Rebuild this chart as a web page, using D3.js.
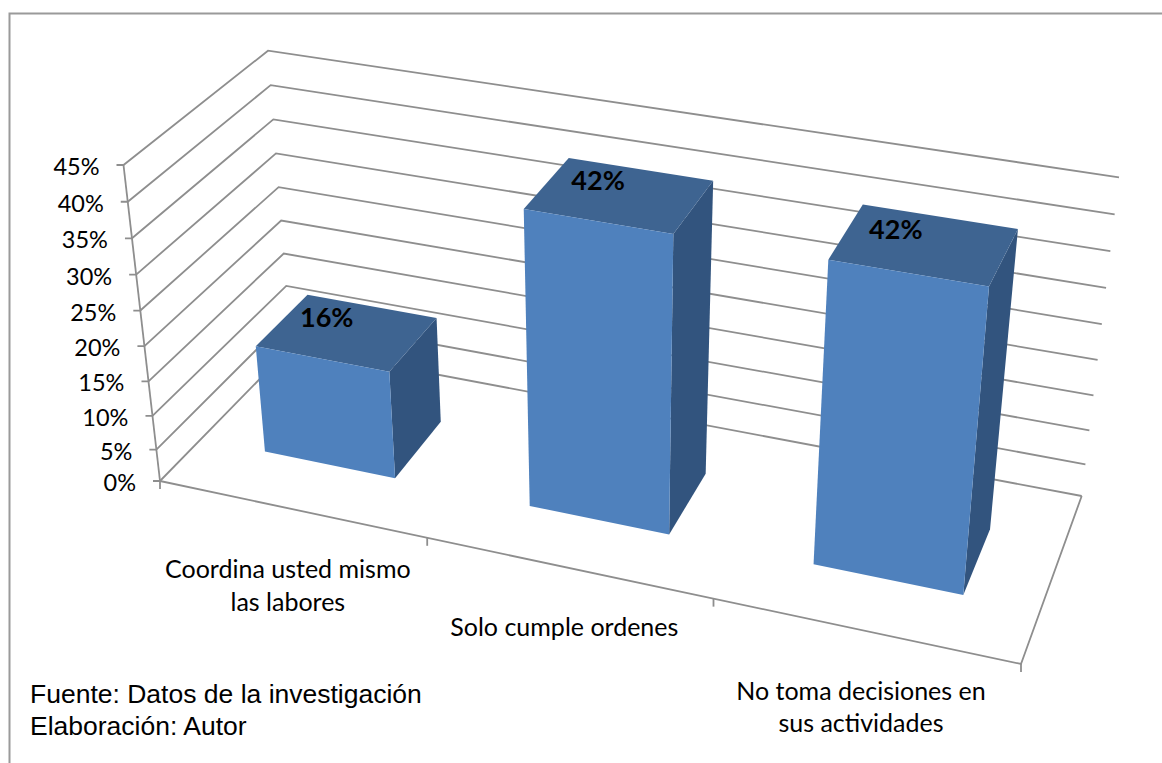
<!DOCTYPE html>
<html>
<head>
<meta charset="utf-8">
<script src="https://d3js.org/d3.v7.min.js"></script>
<style>
body { margin: 0; background: #fff; }
svg { display: block; }
</style>
</head>
<body>
<svg id="chart" width="1162" height="763"></svg>
<script>
var categories = ["Coordina usted mismo|las labores", "Solo cumple ordenes", "No toma decisiones en|sus actividades"];
var values = [16, 42, 42];
var valueTicks = [0, 5, 10, 15, 20, 25, 30, 35, 40, 45];
var notes = ["Fuente: Datos de la investigación", "Elaboración: Autor"];

var svg = d3.select("#chart");
var gray = "#8e8e8e";

// the 3D box of the plot: floor corners and top corners, in pixels
var floorFL = [160, 481], floorFR = [1021, 664], floorBL = [291, 347], floorBR = [1081.7, 496];
var topFL = [123.5, 165], topFR = [1053, 323], topBL = [268, 50.7], topBR = [1119, 177.3];

// perspective makes the steps grow towards the viewer
var yScale = d3.scalePow().exponent(1.05).domain([0, 45]).range([0, 1]);
var xPersp = function(t) { return 0.9 * t / (1 - 0.1 * t); }
var xBand = d3.scaleBand().domain(categories).range([0, 1]).paddingInner(0.5).paddingOuter(0.25);
var depthFront = 0.317, depthBack = 0.715;

var mix = function(a, b, t) {
	return [a[0] + (b[0] - a[0]) * t, a[1] + (b[1] - a[1]) * t];
}
// t along the category axis, d into the depth, v the value
var project = function(t, d, v) {
	var u = xPersp(t);
	var low = mix(mix(floorFL, floorFR, u), mix(floorBL, floorBR, u), d);
	var high = mix(mix(topFL, topFR, u), mix(topBL, topBR, u), d);
	return mix(low, high, yScale(v));
}
var line = d3.line();

var addLine = function(pts, width) {
	svg.append("path")
		.attr("d", line(pts))
		.attr("fill", "none")
		.attr("stroke", gray)
		.attr("stroke-width", width || 1.8);
}

// outer frame, open on the right and at the bottom
svg.append("path")
	.attr("d", "M9.5,763V13.5H1162")
	.attr("fill", "none")
	.attr("stroke", "#9a9a9a")
	.attr("stroke-width", 2);

// side wall and back wall lines, with the value ticks
valueTicks.forEach(function(v) {
	var front = project(0, 0, v);
	addLine([[front[0] - 7, front[1]], front, project(0, 1, v), project(1, 1, v)]);
	svg.append("text")
		.attr("x", front[0] - 24)
		.attr("y", front[1] + 10)
		.attr("text-anchor", "end")
		.attr("font-family", "Lato, 'Open Sans', sans-serif")
		.attr("font-size", 23.5)
		.attr("fill", "#000")
		.text(v + "%");
});

// value axis, floor edges
addLine([project(0, 0, 0), project(0, 0, 45)]);
addLine([project(0, 0, 0), project(1, 0, 0), project(1, 1, 0)]);

// category ticks
[0, 1 / 3, 2 / 3, 1].forEach(function(t) {
	var p = project(t, 0, 0);
	addLine([p, [p[0], p[1] + 8]]);
});

// bars
var barLabelDx = [-20, -21, -28];
var bars = svg.selectAll("g.bar")
	.data(categories)
	.enter()
	.append("g")
	.attr("class", "bar");

bars.each(function(c, i) {
	var t0 = xBand(c), t1 = t0 + xBand.bandwidth(), v = values[i];
	var g = d3.select(this);
	g.append("path")
		.attr("fill", "#32547e")
		.attr("d", line([project(t1, depthFront, 0), project(t1, depthBack, 0), project(t1, depthBack, v), project(t1, depthFront, v)]) + "Z");
	g.append("path")
		.attr("fill", "#3e6491")
		.attr("d", line([project(t0, depthFront, v), project(t1, depthFront, v), project(t1, depthBack, v), project(t0, depthBack, v)]) + "Z");
	g.append("path")
		.attr("fill", "#4f81bd")
		.attr("d", line([project(t0, depthFront, 0), project(t1, depthFront, 0), project(t1, depthFront, v), project(t0, depthFront, v)]) + "Z");
	var mid = project(t0 + xBand.bandwidth() / 2, (depthFront + depthBack) / 2, v);
	g.append("text")
		.attr("x", mid[0] + barLabelDx[i])
		.attr("y", mid[1] - 5.5)
		.attr("text-anchor", "middle")
		.attr("font-family", "Lato, 'Open Sans', sans-serif")
		.attr("font-weight", 700)
		.attr("font-size", 27)
		.attr("fill", "#000")
		.text(v + "%");
});

// category labels, hanging under the front edge
var labelDy = [69, 68, 69];
categories.forEach(function(c, i) {
	var p = project(xBand(c) + xBand.bandwidth() / 2, 0, 0);
	c.split("|").forEach(function(txt, k) {
		svg.append("text")
			.attr("x", p[0] - 3.5)
			.attr("y", p[1] + labelDy[i] + k * 32.7)
			.attr("text-anchor", "middle")
			.attr("font-family", "Lato, 'Open Sans', sans-serif")
			.attr("font-size", 25)
			.attr("fill", "#000")
			.text(txt);
	});
});

// source notes
notes.forEach(function(n, i) {
	svg.append("text")
		.attr("x", 30)
		.attr("y", 703 + i * 32)
		.attr("font-family", "'Liberation Sans', Arial, sans-serif")
		.attr("font-size", 26.5)
		.attr("fill", "#000")
		.text(n);
});
</script>
</body>
</html>
